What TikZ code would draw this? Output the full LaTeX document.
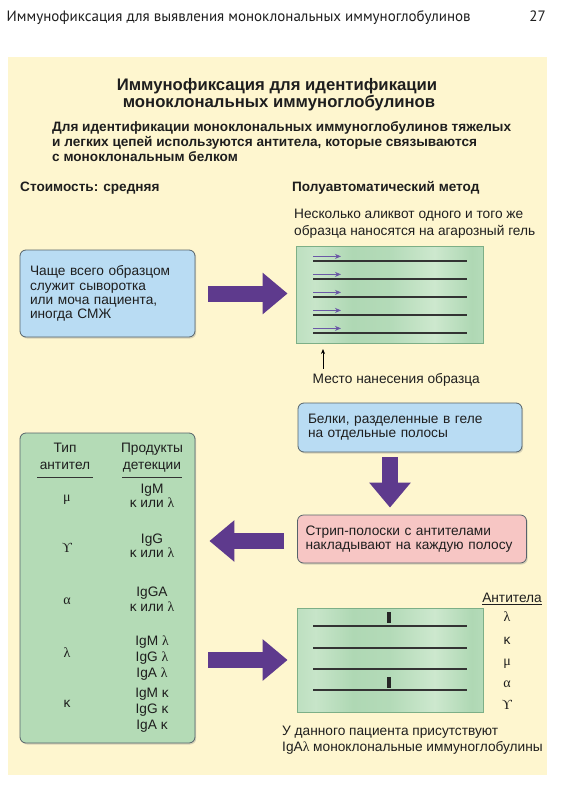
\documentclass[tikz,border=0pt]{standalone}
\usepackage{fontspec}
\setmainfont{Liberation Sans}
\newfontfamily\hdrfont{PT Sans}
\newfontfamily\grk{Liberation Serif}
\usetikzlibrary{arrows.meta,shadows}
\definecolor{bgyellow}{HTML}{FEF6CF}
\definecolor{boxblue}{HTML}{B9DCF3}
\definecolor{boxpink}{HTML}{F7C6C4}
\definecolor{boxgreen}{HTML}{B4DBB6}
\definecolor{boxedge}{HTML}{56636A}
\definecolor{arrowpurple}{HTML}{5E3A8D}
\definecolor{gelA}{HTML}{AFD8B4}
\definecolor{gelB}{HTML}{CDE8CE}
\definecolor{geledge}{HTML}{7DAF87}
\definecolor{thinpurple}{HTML}{6B58A6}
\definecolor{txt}{HTML}{1E1E1E}
\pgfdeclarehorizontalshading{gelshade}{100bp}{color(0bp)=(gelA); color(18bp)=(gelA); color(30bp)=(gelB!80!gelA); color(40bp)=(gelA); color(50bp)=(gelA!85!gelB); color(62bp)=(gelB); color(72bp)=(gelA); color(84bp)=(gelB!70!gelA); color(100bp)=(gelA)}
\newcommand{\bodyfont}{\fontsize{13.7}{14.2}\selectfont}
\begin{document}
\begin{tikzpicture}[x=1pt,y=-1pt,
  card/.style={draw=boxedge, line width=0.8pt, rounded corners=6pt, align=left,
    inner xsep=10pt, inner ysep=0pt, font=\bodyfont, text=txt,
    drop shadow={shadow xshift=1.2pt, shadow yshift=-1.5pt, opacity=0.3}},
  gel/.style={draw=geledge, line width=0.8pt, shading=gelshade, inner sep=0pt},
  lane/.style={line width=1.2pt, draw=black!80},
  minia/.style={line width=0.8pt, draw=thinpurple, -{Stealth[length=6pt,width=5pt]}},
  bigarrow/.style={draw=arrowpurple, line width=16pt, -{Triangle[length=25pt,width=40pt]}},
  lbl/.style={font=\bodyfont, text=txt, inner sep=0pt},
  bold/.style={font=\bfseries\fontsize{13.6}{14}\selectfont, text=txt, inner sep=0pt},
  gsym/.style={font=\grk\fontsize{14}{14}\selectfont, text=txt, inner sep=0pt, anchor=base},
  band/.style={fill=black!85}
]
\useasboundingbox (0,0) rectangle (560,792);
\fill[white] (0,0) rectangle (560,792);
\fill[bgyellow] (8,57) rectangle (547,775);

% page header
\node[font=\hdrfont\fontsize{15}{15}\selectfont, text=txt, anchor=base west, inner sep=0pt] (hdr) at (6.5,22) {Иммунофиксация для выявления моноклональных иммуноглобулинов};
\node[font=\hdrfont\fontsize{15}{15}\selectfont, text=txt, anchor=base east, inner sep=0pt] (pg) at (546,22) {27};

% title
\node[font=\bfseries\fontsize{16.7}{20}\selectfont, text=txt, anchor=base, inner sep=0pt] (t1) at (277,90) {Иммунофиксация для идентификации};
\node[font=\bfseries\fontsize{16.7}{20}\selectfont, text=txt, anchor=base, inner sep=0pt] (t2) at (279,107.7) {моноклональных иммуноглобулинов};
\node[bold, anchor=base west] (s1) at (52,131) {Для идентификации моноклональных иммуноглобулинов тяжелых};
\node[bold, anchor=base west] (s2) at (52,146) {и легких цепей используются антитела, которые связываются};
\node[bold, anchor=base west] (s3) at (52,161) {с моноклональным белком};

\node[bold, anchor=base west] (cost) at (20,191) {Стоимость: средняя};
\node[bold, anchor=base west] (semi) at (292,191) {Полуавтоматический метод};

\node[lbl, anchor=base west] (al1) at (294,218.5) {Несколько аликвот одного и того же};
\node[lbl, anchor=base west] (al2) at (294,235.5) {образца наносятся на агарозный гель};

% sample box
\node[card, fill=boxblue, text width=155pt, minimum height=87pt] (sample) at (107.5,293.5)
  {Чаще всего образцом\\служит сыворотка\\или моча пациента,\\иногда СМЖ};

% gel 1
\node[gel, minimum width=187pt, minimum height=97pt] (gel1) at (389.5,294.5) {};
\foreach \y in {261,279,297,315,333} {
  \draw[lane] (313,\y) -- (467,\y);
  \draw[minia] (313,\y-4.6) -- (341,\y-4.6);
}
\coordinate (sitetip) at (323,349);
\node[lbl, anchor=base west] (site) at (312.5,383) {Место нанесения образца};
\draw[line width=0.7pt, -{Stealth[length=5pt,width=4pt]}] (site.north -| sitetip) ++(0,-4) -- (sitetip);

% separated proteins
\node[card, fill=boxblue, text width=204pt, minimum height=49pt] (sep) at (410,427.5)
  {Белки, разделенные в геле\\на отдельные полосы};
% strips
\node[card, fill=boxpink, text width=213pt, inner xsep=8pt, minimum height=48pt] (strip) at (412,539)
  {Стрип-полоски с антителами\\накладывают на каждую полосу};

% table
\node[card, fill=boxgreen, minimum width=175pt, minimum height=310pt, inner sep=0pt] (table) at (107.5,588) {};
\node[lbl, anchor=base] (h1a) at (65,452.5) {Тип};
\node[lbl, anchor=base] (h1b) at (65,469) {антител};
\node[lbl, anchor=base] (h2a) at (152,452.5) {Продукты};
\node[lbl, anchor=base] (h2b) at (152,469) {детекции};
\draw[line width=1pt, draw=black!80] (37,477.5) -- (93,477.5);
\draw[line width=1pt, draw=black!80] (122,477.5) -- (182,477.5);

\node[gsym] (gmu) at (67,501) {μ};
\node[lbl, anchor=base] (p1a) at (152,493) {IgM};
\node[lbl, anchor=base] (p1b) at (152,507.5) {κ или {\grk λ}};
\node[gsym] (gup) at (67,552) {ϒ};
\node[lbl, anchor=base] (p2a) at (152,543) {IgG};
\node[lbl, anchor=base] (p2b) at (152,557.5) {κ или {\grk λ}};
\node[gsym] (gal) at (67,604) {α};
\node[lbl, anchor=base] (p3a) at (152,596) {IgGA};
\node[lbl, anchor=base] (p3b) at (152,611) {κ или {\grk λ}};
\node[gsym] (gla) at (67,657) {λ};
\node[lbl, anchor=base] (p4a) at (152,645) {IgM {\grk λ}};
\node[lbl, anchor=base] (p4b) at (152,661) {IgG {\grk λ}};
\node[lbl, anchor=base] (p4c) at (152,677) {IgA {\grk λ}};
\node[lbl, anchor=base] (gka) at (67,707) {κ};
\node[lbl, anchor=base] (p5a) at (152,697) {IgM κ};
\node[lbl, anchor=base] (p5b) at (152,713) {IgG κ};
\node[lbl, anchor=base] (p5c) at (152,729) {IgA κ};

% gel 2
\node[gel, minimum width=186pt, minimum height=104pt] (gel2) at (390,660) {};
\foreach \y in {626,648,669,690} {
  \draw[lane] (313,\y) -- (467,\y);
}
\fill[band] (386.5,612) rectangle (390.5,623);
\fill[band] (386.5,677) rectangle (390.5,688);
\node[lbl, anchor=base east] (ab) at (542,602) {Антитела};
\draw[line width=0.7pt, draw=txt] (ab.base west) ++(0,2.5) -- ([yshift=-2.5pt]ab.base east);
\node[gsym] (r1) at (507,621) {λ};
\node[lbl, anchor=base] (r2) at (507,644) {κ};
\node[gsym] (r3) at (507,665) {μ};
\node[gsym] (r4) at (507,687) {α};
\node[gsym] (r5) at (507,709) {ϒ};
\node[lbl, anchor=base west] (res1) at (282,735) {У данного пациента присутствуют};
\node[lbl, anchor=base west] (res2) at (282,751) {IgA{\grk λ} моноклональные иммуноглобулины};

% big arrows
\draw[bigarrow, shorten <=13pt, shorten >=8pt] (sample.east) -- (gel1.west |- sample.east);
\draw[bigarrow, shorten <=5pt, shorten >=7pt] ([xshift=-20pt]sep.south) -- ([xshift=-20pt]sep.south |- strip.north);
\draw[bigarrow, shorten <=13pt, shorten >=14pt] ([yshift=-2pt]strip.west) -- ([yshift=-2pt]table.east |- strip.west);
\draw[bigarrow, shorten <=13pt, shorten >=9pt] (table.east |- gel2.west) -- (gel2.west);
\end{tikzpicture}
\end{document}
